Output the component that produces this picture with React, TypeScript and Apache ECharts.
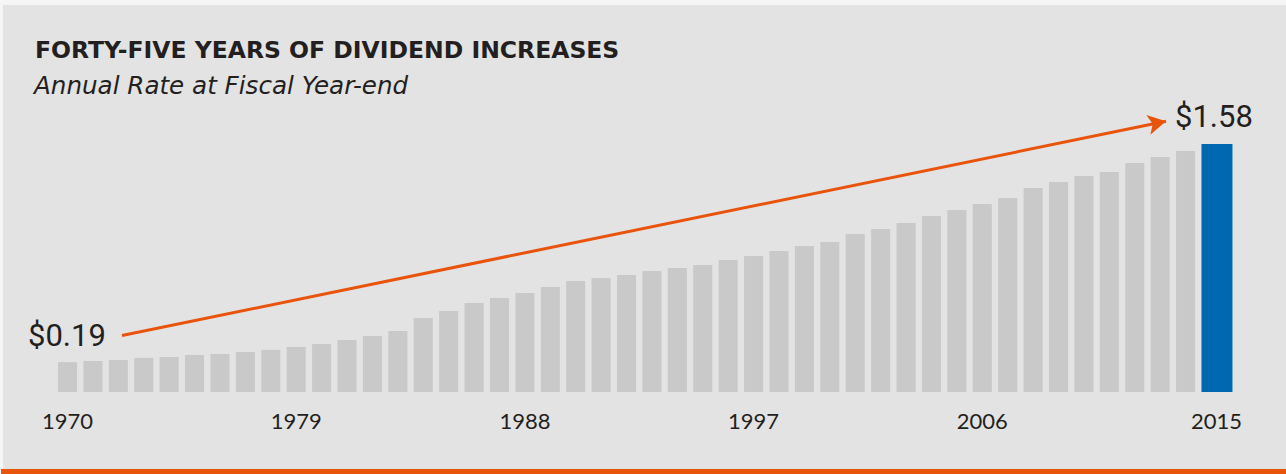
import React, { useEffect, useRef } from "react";
import * as echarts from "echarts";

// Fiscal years and annual dividend rate at year-end (USD)
const years: string[] = [
  "1970", "1971", "1972", "1973", "1974", "1975", "1976", "1977", "1978", "1979",
  "1980", "1981", "1982", "1983", "1984", "1985", "1986", "1987", "1988", "1989",
  "1990", "1991", "1992", "1993", "1994", "1995", "1996", "1997", "1998", "1999",
  "2000", "2001", "2002", "2003", "2004", "2005", "2006", "2007", "2008", "2009",
  "2010", "2011", "2012", "2013", "2014", "2015",
];

const dividendRate: number[] = [
  0.19, 0.197, 0.204, 0.217, 0.223, 0.236, 0.242, 0.255, 0.268, 0.287,
  0.306, 0.331, 0.357, 0.389, 0.471, 0.516, 0.567, 0.599, 0.631, 0.669,
  0.707, 0.726, 0.745, 0.771, 0.79, 0.809, 0.841, 0.866, 0.898, 0.93,
  0.955, 1.006, 1.038, 1.076, 1.121, 1.159, 1.197, 1.236, 1.299, 1.338,
  1.376, 1.401, 1.459, 1.497, 1.535, 1.58,
];

// Years shown under the axis
const labeledYears: string[] = ["1970", "1979", "1988", "1997", "2006", "2015"];

const TITLE = "FORTY-FIVE YEARS OF DIVIDEND INCREASES";
const SUBTITLE = "Annual Rate at Fiscal Year-end";

const GRAY_BAR = "#c8c9c8";
const BLUE_BAR = "#0067b1";
const ORANGE = "#e8540c";
const INK = "#231f20";
const PANEL = "#e3e3e3";

const fmtRate = (v: number) => `$${v.toFixed(2)}`;

export default function App() {
  const ref = useRef<HTMLDivElement>(null);

  useEffect(() => {
    if (!ref.current) return;
    const chart = echarts.init(ref.current, undefined, { renderer: "svg" });
    const lastIdx = dividendRate.length - 1;

    chart.setOption({
      animation: false,
      backgroundColor: "#f6f5f5",
      textStyle: { fontFamily: "Lato" },
      grid: { left: 54.8, right: 62.3, top: 78, bottom: 82, containLabel: false },
      xAxis: {
        type: "category",
        data: years,
        boundaryGap: true,
        axisLine: { show: false },
        axisTick: { show: false },
        axisLabel: {
          interval: (_i: number, v: string) => labeledYears.includes(v),
          margin: 17,
          color: INK,
          fontFamily: "Lato",
          fontSize: 22,
          formatter: (v: string) =>
            v === years[lastIdx] ? `{last|${v}}` : `{base|${v}}`,
          rich: {
            base: { fontFamily: "Lato", fontSize: 22, color: INK },
            last: { fontFamily: "Lato", fontSize: 22, color: INK, padding: [0, 0, 0, 11] },
          },
        },
      },
      yAxis: {
        type: "value",
        min: 0,
        max: 2,
        show: false,
        splitLine: { show: false },
      },
      graphic: [
        {
          type: "rect",
          z: -10,
          shape: { x: 3, y: 5, width: 1283, height: 464 },
          style: { fill: PANEL },
          silent: true,
        },
        {
          type: "rect",
          z: -9,
          shape: { x: 1, y: 469, width: 1285, height: 5 },
          style: { fill: ORANGE },
          silent: true,
        },
        {
          type: "text",
          left: 35,
          top: 38,
          style: {
            text: TITLE,
            fill: INK,
            fontFamily: "DejaVu Sans",
            fontWeight: 700,
            fontSize: 23.5,
          },
        },
        {
          type: "text",
          left: 34,
          top: 73,
          style: {
            text: SUBTITLE,
            fill: INK,
            fontFamily: "DejaVu Sans",
            fontStyle: "oblique",
            fontSize: 24.6,
          },
        },
        {
          type: "text",
          left: 28,
          top: 320,
          style: {
            text: fmtRate(dividendRate[0]),
            fill: INK,
            fontFamily: "Roboto",
            fontSize: 31,
          },
        },
        {
          type: "text",
          left: 1175,
          top: 101,
          style: {
            text: fmtRate(dividendRate[lastIdx]),
            fill: INK,
            fontFamily: "Roboto",
            fontSize: 31,
          },
        },
      ],
      series: [
        {
          type: "custom",
          data: dividendRate.map((v, i) => [i, v]),
          renderItem: (params: any, api: any) => {
            const i = api.value(0);
            const v = api.value(1);
            const base = api.coord([i, 0]);
            const top = api.coord([i, v]);
            const band = api.size([1, 0])[0];
            const w = band * 0.75;
            const isLast = params.dataIndex === lastIdx;
            return {
              type: "rect",
              shape: {
                x: base[0] - w / 2,
                y: top[1],
                width: isLast ? band * 1.22 : w,
                height: base[1] - top[1],
              },
              style: { fill: isLast ? BLUE_BAR : GRAY_BAR },
            };
          },
          markLine: {
            silent: true,
            symbol: ["none", "arrow"],
            symbolSize: [15, 18],
            label: { show: false },
            lineStyle: { color: ORANGE, width: 3, type: "solid" },
            data: [[{ x: 122, y: 335.5 }, { x: 1166, y: 121.3 }]],
          },
        },
      ],
    });

    return () => chart.dispose();
  }, []);

  return (
    <div
      ref={ref}
      style={{ position: "fixed", left: 0, top: 0, width: 1286, height: 474 }}
    />
  );
}
